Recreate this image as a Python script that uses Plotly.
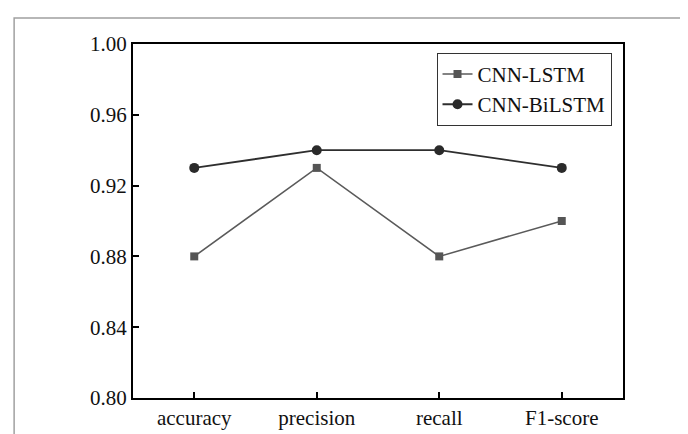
import plotly.graph_objects as go

categories = ["accuracy", "precision", "recall", "F1-score"]
cnn_lstm = [0.88, 0.93, 0.88, 0.90]
cnn_bilstm = [0.93, 0.94, 0.94, 0.93]
y_ticks = [0.80, 0.84, 0.88, 0.92, 0.96, 1.00]
y_tick_labels = ["0.80", "0.84", "0.88", "0.92", "0.96", "1.00"]

W, H = 688, 434
L, R, T, B = 125, 72.5, 36, 35.5
pw, ph = W - L - R, H - T - B

fig = go.Figure()
fig.add_trace(go.Scatter(
    x=categories, y=cnn_lstm, name="CNN-LSTM", mode="lines+markers",
    line=dict(color="#5a5a5a", width=1.6),
    marker=dict(symbol="square", size=8, color="#555555"),
))
fig.add_trace(go.Scatter(
    x=categories, y=cnn_bilstm, name="CNN-BiLSTM", mode="lines+markers",
    line=dict(color="#2e2e2e", width=1.8),
    marker=dict(symbol="circle", size=10, color="#2a2a2a"),
))

def px_x(p):
    return (p - L) / pw

def px_y(p):
    return (H - B - p) / ph

fig.add_shape(type="rect", xref="paper", yref="paper",
              x0=px_x(6), x1=px_x(W + 20), y0=px_y(H + 20), y1=px_y(9.5),
              line=dict(color="#a0a0a0", width=1.5), layer="below")

serif = "Liberation Serif, Times New Roman, serif"
font = dict(family=serif, size=21, color="#111111")

fig.update_layout(
    width=W, height=H,
    margin=dict(l=L, r=R, t=T, b=B, pad=0),
    paper_bgcolor="white", plot_bgcolor="white",
    font=font,
    showlegend=True,
    legend=dict(
        x=px_x(604), xanchor="right", y=px_y(45), yanchor="top",
        bordercolor="#333333", borderwidth=1, bgcolor="white",
        font=dict(family=serif, size=21, color="#111111"),
        tracegroupgap=0, itemwidth=30,
    ),
    xaxis=dict(
        type="category", range=[-0.5, 3.5],
        showline=True, linecolor="black", linewidth=2, mirror=True,
        ticks="inside", ticklen=6, tickwidth=1.5, tickcolor="black",
        showgrid=False, zeroline=False, tickfont=font,
    ),
    yaxis=dict(
        range=[0.80, 1.00], tickvals=y_ticks, ticktext=y_tick_labels,
        showline=True, linecolor="black", linewidth=2, mirror=True,
        ticks="inside", ticklen=6, tickwidth=1.5, tickcolor="black",
        showgrid=False, zeroline=False, tickfont=font,
    ),
)

fig.write_html("out.html")
